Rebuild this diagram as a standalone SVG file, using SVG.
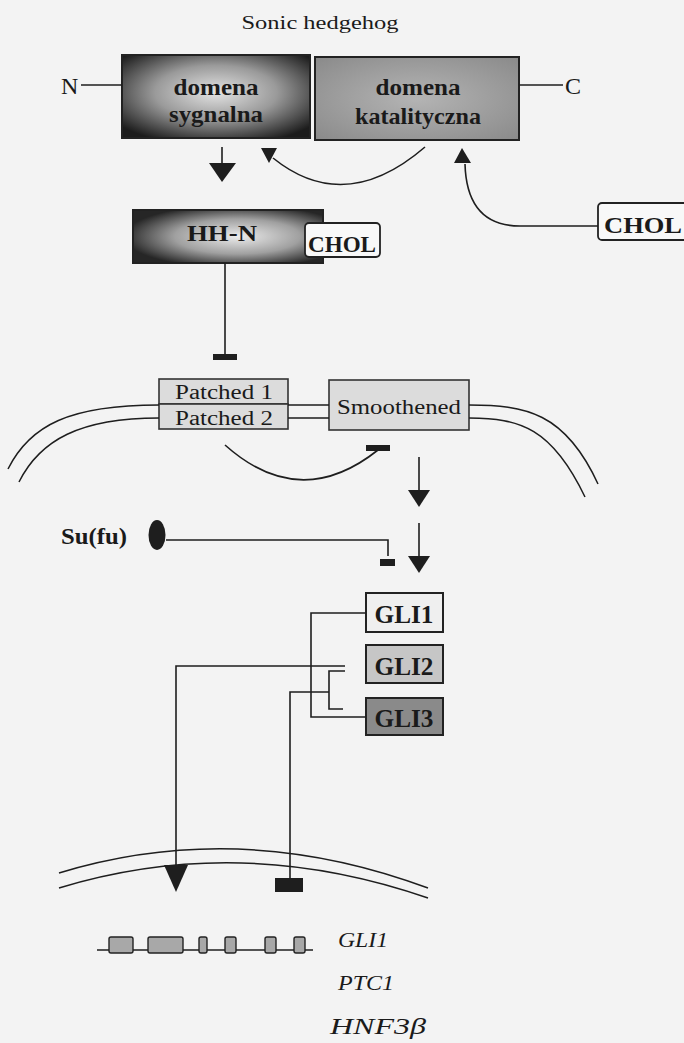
<svg xmlns="http://www.w3.org/2000/svg" width="684" height="1043" viewBox="0 0 684 1043">
<defs>
<radialGradient id="gDark" cx="0.5" cy="0.45" r="0.65">
<stop offset="0" stop-color="#e4e4e4"/>
<stop offset="0.5" stop-color="#9a9a9a"/>
<stop offset="1" stop-color="#1c1c1c"/>
</radialGradient>
<radialGradient id="gHH" cx="0.55" cy="0.5" r="0.6">
<stop offset="0" stop-color="#ececec"/>
<stop offset="0.55" stop-color="#a0a0a0"/>
<stop offset="1" stop-color="#262626"/>
</radialGradient>
<radialGradient id="gMid" cx="0.5" cy="0.5" r="0.7">
<stop offset="0" stop-color="#b4b4b4"/>
<stop offset="1" stop-color="#8a8a8a"/>
</radialGradient>
<style>
.bg{fill:#f3f3f3}
.ln{fill:none;stroke:#1e1e1e;stroke-width:1.6}
.mem{fill:none;stroke:#1e1e1e;stroke-width:1.5}
.hd{fill:#1e1e1e;stroke:none}
.bx{stroke:#222;stroke-width:2}
.lt{fill:#dcdcdc;stroke:#333;stroke-width:1.6}
.bd{font-family:"Liberation Serif",serif;font-weight:bold;fill:#1a1a1a;text-anchor:middle}
.bds{font-family:"Liberation Serif",serif;font-weight:bold;fill:#1a1a1a;text-anchor:start}
.rg{font-family:"Liberation Serif",serif;fill:#1a1a1a}
.it{font-family:"Liberation Serif",serif;font-style:italic;fill:#1a1a1a}
.ex{fill:#a8a8a8;stroke:#222;stroke-width:1.4}
</style>
</defs>
<rect class="bg" x="0" y="0" width="684" height="1043"/>

<g id="title">
<text class="rg" x="320" y="29" font-size="19" text-anchor="middle" textLength="157" lengthAdjust="spacingAndGlyphs">Sonic hedgehog</text>
</g>

<g id="nterm">
<text class="rg" x="61" y="94" font-size="24">N</text>
</g>
<g id="cterm">
<text class="rg" x="565" y="94" font-size="24">C</text>
</g>

<g id="domena-sygnalna">
<rect class="bx" x="122" y="55" width="188" height="83" fill="url(#gDark)"/>
<text class="bd" x="216" y="95" font-size="24" textLength="85" lengthAdjust="spacingAndGlyphs">domena</text>
<text class="bd" x="216" y="122" font-size="24" textLength="94" lengthAdjust="spacingAndGlyphs">sygnalna</text>
</g>

<g id="domena-katalityczna">
<rect class="bx" x="315" y="57" width="204" height="83" fill="url(#gMid)"/>
<text class="bd" x="418" y="95" font-size="24" textLength="85" lengthAdjust="spacingAndGlyphs">domena</text>
<text class="bd" x="418" y="124" font-size="24" textLength="126" lengthAdjust="spacingAndGlyphs">katalityczna</text>
</g>

<g id="chol-right">
<rect x="598" y="203" width="95" height="37" rx="4" fill="#f8f8f8" stroke="#222" stroke-width="1.8"/>
<text class="bds" x="604" y="233" font-size="24" textLength="78" lengthAdjust="spacingAndGlyphs">CHOL</text>
</g>

<g id="hh-n">
<rect class="bx" x="133" y="210" width="190" height="53" fill="url(#gHH)"/>
<text class="bd" x="222" y="241" font-size="24" textLength="70" lengthAdjust="spacingAndGlyphs">HH-N</text>
</g>

<g id="chol-small">
<rect x="305" y="223" width="75" height="34" rx="4" fill="#f8f8f8" stroke="#222" stroke-width="1.8"/>
<text class="bd" x="342" y="252" font-size="24" textLength="68" lengthAdjust="spacingAndGlyphs">CHOL</text>
</g>

<g id="patched">
<rect class="lt" x="159" y="379" width="129" height="25"/>
<rect class="lt" x="159" y="404" width="129" height="25"/>
<text class="rg" x="224" y="399" font-size="20" text-anchor="middle" textLength="98" lengthAdjust="spacingAndGlyphs">Patched 1</text>
<text class="rg" x="224" y="425" font-size="20" text-anchor="middle" textLength="98" lengthAdjust="spacingAndGlyphs">Patched 2</text>
</g>

<g id="smoothened">
<rect class="lt" x="329" y="380" width="140" height="50" fill="#dedede"/>
<text class="rg" x="399" y="414" font-size="22" text-anchor="middle" textLength="124" lengthAdjust="spacingAndGlyphs">Smoothened</text>
</g>

<g id="plasma-membrane">
<path class="mem" d="M 8 469 C 30 425, 70 405, 159 405"/>
<path class="mem" d="M 19 482 C 40 440, 80 418, 159 418"/>
<path class="mem" d="M 288 405 H 329 M 288 418 H 329"/>
<path class="mem" d="M 469 405 C 525 405, 565 412, 598 484"/>
<path class="mem" d="M 469 418 C 520 418, 552 428, 585 497"/>
</g>

<g id="sufu">
<text class="bd" x="94" y="544" font-size="24" textLength="66" lengthAdjust="spacingAndGlyphs">Su(fu)</text>
<ellipse cx="157" cy="535" rx="8.5" ry="15" fill="#1e1e1e"/>
</g>

<g id="gli1">
<rect x="366" y="593" width="77" height="39" fill="#efefef" stroke="#222" stroke-width="2"/>
<text class="bd" x="404" y="623" font-size="25" textLength="59" lengthAdjust="spacingAndGlyphs">GLI1</text>
</g>
<g id="gli2">
<rect x="366" y="645" width="77" height="38" fill="#c6c6c6" stroke="#222" stroke-width="2"/>
<text class="bd" x="404" y="675" font-size="25" textLength="59" lengthAdjust="spacingAndGlyphs">GLI2</text>
</g>
<g id="gli3">
<rect x="366" y="698" width="77" height="37" fill="#8a8a8a" stroke="#222" stroke-width="2"/>
<text class="bd" x="404" y="727" font-size="25" textLength="59" lengthAdjust="spacingAndGlyphs">GLI3</text>
</g>

<g id="nuclear-membrane">
<path class="mem" d="M 59 873 Q 240 818 428 888"/>
<path class="mem" d="M 59 888 Q 240 833 428 898"/>
</g>

<g id="gene">
<path class="ln" d="M 97 950 H 313"/>
<rect class="ex" x="109" y="937" width="24" height="16" rx="2"/>
<rect class="ex" x="148" y="937" width="35" height="16" rx="2"/>
<rect class="ex" x="199" y="937" width="8" height="16" rx="2"/>
<rect class="ex" x="225" y="937" width="11" height="16" rx="2"/>
<rect class="ex" x="265" y="937" width="11" height="16" rx="2"/>
<rect class="ex" x="294" y="937" width="11" height="16" rx="2"/>
</g>

<g id="target-genes">
<text class="it" x="338" y="947" font-size="22" textLength="50" lengthAdjust="spacingAndGlyphs">GLI1</text>
<text class="it" x="338" y="990" font-size="22" textLength="56" lengthAdjust="spacingAndGlyphs">PTC1</text>
<text class="it" x="330" y="1034" font-size="24" textLength="96" lengthAdjust="spacingAndGlyphs">HNF3β</text>
</g>

<g id="connectors">
<path class="ln" d="M 81 85 H 122"/>
<path class="ln" d="M 519 85 H 563"/>
<path class="ln" d="M 222 147 V 166"/>
<polygon class="hd" points="209,163 236,163 222,182"/>
<path class="ln" d="M 425 147 Q 345 216 273 158"/>
<polygon class="hd" points="261,148 277,148 269,163"/>
<path class="ln" d="M 465 164 C 466 200, 480 226, 520 226 L 598 226"/>
<polygon class="hd" points="454,163 471,163 462,148"/>
<path class="ln" d="M 225 263 V 355"/>
<rect class="hd" x="213" y="354" width="24" height="6"/>
<path class="ln" d="M 225 445 Q 300 512 378 450"/>
<rect class="hd" x="366" y="445" width="24" height="6"/>
<path class="ln" d="M 419 457 V 492"/>
<polygon class="hd" points="408,490 430,490 419,507"/>
<path class="ln" d="M 166 540 H 388 V 556"/>
<rect class="hd" x="380" y="559" width="15" height="7"/>
<path class="ln" d="M 419 523 V 558"/>
<polygon class="hd" points="408,556 430,556 419,573"/>
<path class="ln" d="M 366 613 H 311 V 717 H 366"/>
<path class="ln" d="M 345 671 H 329 V 709 H 343"/>
<path class="ln" d="M 345 666 H 176 V 867"/>
<polygon class="hd" points="164,865 188,865 176,892"/>
<path class="ln" d="M 329 692 H 290 V 878"/>
<rect class="hd" x="275" y="878" width="28" height="14"/>
</g>
</svg>
